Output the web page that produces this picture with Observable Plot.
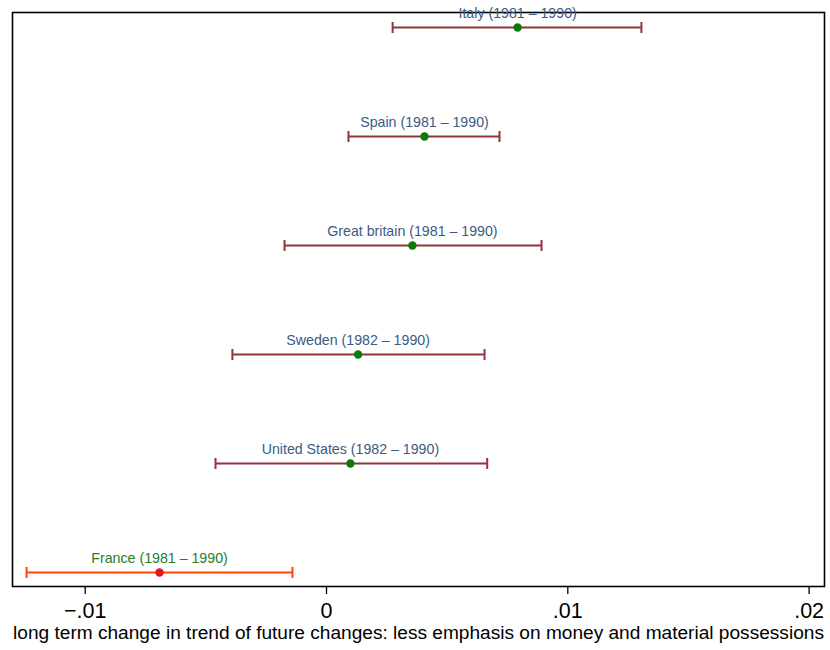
<!DOCTYPE html>
<html>
<head>
<meta charset="utf-8">
<script src="https://cdn.jsdelivr.net/npm/d3@7"></script>
<script src="https://cdn.jsdelivr.net/npm/@observablehq/plot@0.6"></script>
<style>
  html, body { margin: 0; padding: 0; background: #fff; }
  #chart svg { display: block; font-family: "Liberation Sans", Arial, Helvetica, sans-serif; }
</style>
</head>
<body>
<div id="chart"></div>
<script>
// Countries, top to bottom
const countries = ["Italy", "Spain", "Great britain", "Sweden", "United States", "France"];
const periods = ["1981 – 1990", "1981 – 1990", "1981 – 1990", "1982 – 1990", "1982 – 1990", "1981 – 1990"];
// Point estimates and confidence bounds
const estimates = [0.00792, 0.00406, 0.00356, 0.00131, 0.00099, -0.00692];
const lower = [0.00274, 0.00091, -0.00174, -0.00390, -0.00460, -0.01243];
const upper = [0.01305, 0.00717, 0.00891, 0.00655, 0.00666, -0.00141];
// France is the highlighted case
const highlighted = ["France"];

const tickValues = [-0.01, 0, 0.01, 0.02];
const tickLabels = ["−.01", "0", ".01", ".02"];
const xTitle = "long term change in trend of future changes: less emphasis on money and material possessions";

const rows = countries.map((c, i) => ({
  country: c,
  label: `${c} (${periods[i]})`,
  est: estimates[i],
  lo: lower[i],
  hi: upper[i],
  hl: highlighted.includes(c)
}));

// Vertical cap drawn as a dot symbol (length = 2r)
const cap = {
  draw(context, size) {
    const r = Math.sqrt(size / Math.PI);
    context.moveTo(0, -r);
    context.lineTo(0, r);
  }
};

const barColor = d => d.hl ? "#ff4500" : "#90353b";
const dotColor = d => d.hl ? "#f0101a" : "#0a7a0a";
const labelColor = d => d.hl ? "#2a7a2a" : "#3b5b82";

const chart = Plot.plot({
  width: 830,
  height: 650,
  marginTop: 12,
  marginLeft: 12,
  marginRight: 6,
  marginBottom: 64,
  style: { fontFamily: "'Liberation Sans', Arial, Helvetica, sans-serif", background: "#fff" },
  x: { domain: [-0.013013, 0.020638] },
  y: { type: "point", domain: countries, padding: 0, inset: 13, axis: null },
  marks: [
    Plot.frame({ stroke: "#000", strokeWidth: 1.6 }),
    Plot.axisX({
      ticks: tickValues,
      tickFormat: d => tickLabels[tickValues.indexOf(d)],
      tickSize: 8,
      tickPadding: 8,
      fontSize: 21.5,
      stroke: "#000",
      strokeWidth: 1.3,
      fill: "#000",
      label: null
    }),
    Plot.text([xTitle], {
      frameAnchor: "bottom",
      dy: 52,
      fontSize: 19.1,
      fill: "#000"
    }),
    Plot.ruleY(rows, { y: "country", x1: "lo", x2: "hi", stroke: barColor, strokeWidth: 2 }),
    Plot.dot(rows, { x: "lo", y: "country", symbol: cap, r: 5.5, stroke: barColor, strokeWidth: 2, fill: "none" }),
    Plot.dot(rows, { x: "hi", y: "country", symbol: cap, r: 5.5, stroke: barColor, strokeWidth: 2, fill: "none" }),
    Plot.dot(rows, { x: "est", y: "country", r: 4.2, fill: dotColor, stroke: "none" }),
    Plot.text(rows, { x: "est", y: "country", text: "label", dy: -14, fontSize: 14.2, fill: labelColor })
  ]
});

document.getElementById("chart").append(chart);
</script>
</body>
</html>
